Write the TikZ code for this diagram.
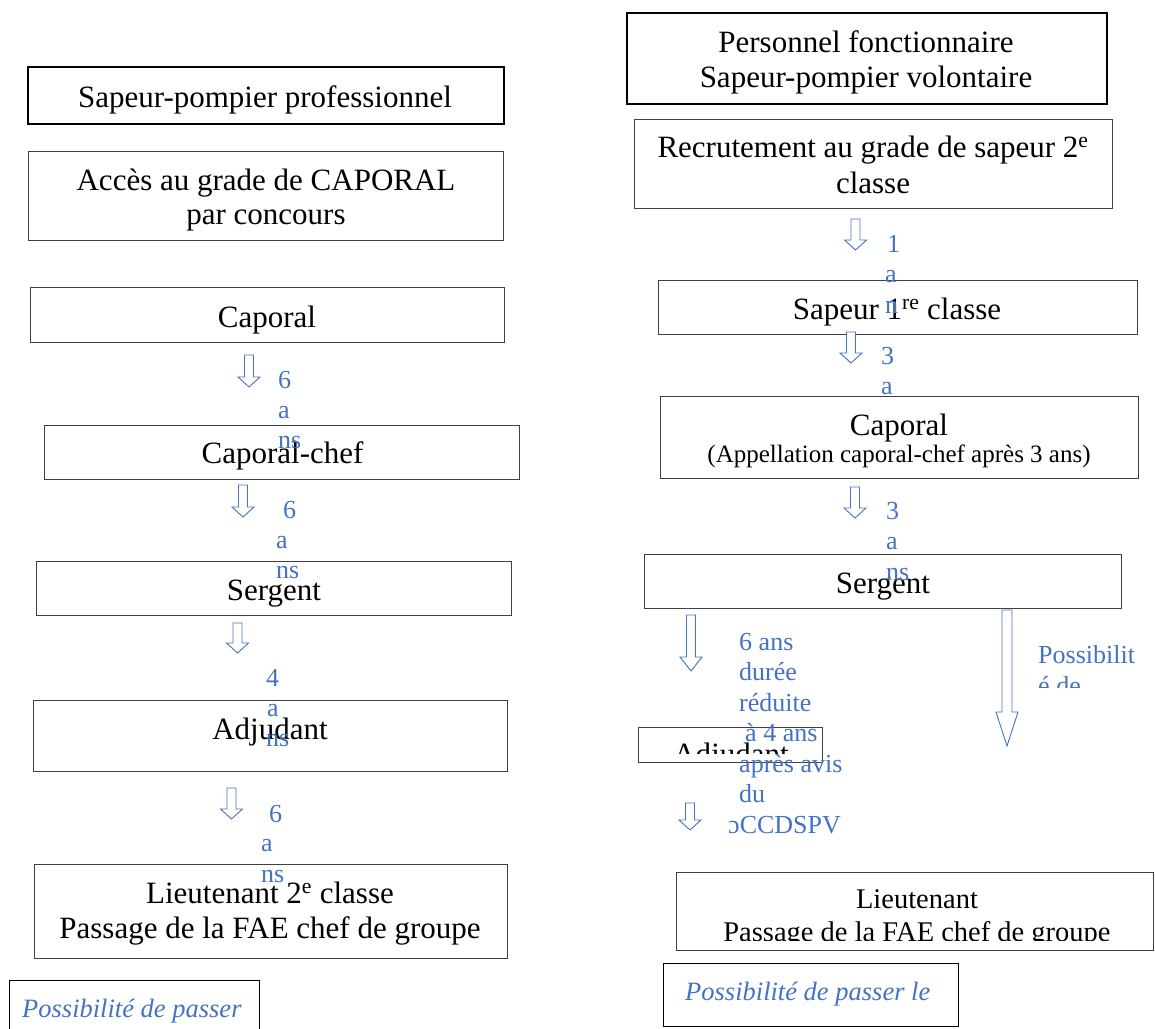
\documentclass[tikz,border=0pt]{standalone}
\usepackage{fontspec}
\setmainfont{Liberation Serif}
\definecolor{wblue}{RGB}{68,114,196}
\newcommand\blockarr[4]{%
  \draw[arrowline] ({#1-4.5},#2) -- ({#1+4.5},#2) -- ({#1+4.5},#3) -- ({#1+11},#3) -- (#1,#4) -- ({#1-11},#3) -- ({#1-4.5},#3) -- cycle;}
\begin{document}
\begin{tikzpicture}[x=1pt,y=-1pt,
  box/.style={draw=black!75, line width=1.2pt, fill=white, inner sep=0, anchor=north west},
  thickbox/.style={box, draw=black, line width=2pt},
  mtxt/.style={inner sep=0, anchor=base, font=\fontsize{31}{35}\selectfont},
  stxt/.style={inner sep=0, anchor=base, font=\fontsize{25}{30}\selectfont},
  ital/.style={inner sep=0, anchor=base west, text=wblue, font=\fontsize{26.5}{31}\selectfont\itshape},
  lab/.style={inner sep=0, anchor=base west, text=wblue, font=\fontsize{26}{31}\selectfont},
  arrowline/.style={draw=wblue, line width=0.9pt, fill=white, line join=miter}]
\useasboundingbox (0,0) rectangle (1155,1028);
\clip (0,0) rectangle (1155,1028);

% ---------------- left column ----------------
\node[thickbox, minimum width=476pt, minimum height=57pt] (A) at (27,66) {};
\node[mtxt] (At) at (265,107) {Sapeur-pompier professionnel};

\node[box, minimum width=475pt, minimum height=89pt] (B) at (28,151) {};
\node[mtxt] (Bt1) at (266,190) {Accès au grade de CAPORAL};
\node[mtxt] (Bt2) at (266,224) {par concours};

\node[box, minimum width=474pt, minimum height=55pt] (C) at (30,287) {};
\node[mtxt] (Ct) at (267,327) {Caporal};

\node[box, minimum width=475pt, minimum height=54pt] (D) at (44,425) {};
\node[mtxt] (Dt) at (282.5,463) {Caporal-chef};

\node[box, minimum width=475pt, minimum height=54pt] (E) at (36,561) {};
\node[mtxt] (Et) at (274,600) {Sergent};

\node[box, minimum width=474pt, minimum height=71pt] (F) at (33,700) {};
\node[mtxt] (Ft) at (270,739) {Adjudant};

\node[box, minimum width=473pt, minimum height=94pt] (G) at (34,864) {};
\node[mtxt] (Gt1) at (270,903) {Lieutenant 2\textsuperscript{e} classe};
\node[mtxt] (Gt2) at (270,938) {Passage de la FAE chef de groupe};

\node[box, draw=black, minimum width=250pt, minimum height=60pt] (H) at (9,980) {};
\node[ital] (Ht) at (22,1017) {Possibilité de passer};

% ---------------- right column ----------------
\node[thickbox, minimum width=480pt, minimum height=91pt] (P) at (626,12) {};
\node[mtxt] (Pt1) at (866,52) {Personnel fonctionnaire};
\node[mtxt] (Pt2) at (866,87) {Sapeur-pompier volontaire};

\node[box, minimum width=478pt, minimum height=89pt] (R) at (634,119) {};
\node[mtxt] (Rt1) at (873,157) {Recrutement au grade de sapeur 2\textsuperscript{e}};
\node[mtxt] (Rt2) at (873,193) {classe};

\node[box, minimum width=479pt, minimum height=54pt] (S) at (658,280) {};
\node[mtxt] (St) at (897,319) {Sapeur 1\textsuperscript{re} classe};

\node[box, minimum width=478pt, minimum height=82pt] (K) at (660,396) {};
\node[mtxt] (Kt1) at (899,435) {Caporal};
\node[stxt] (Kt2) at (899,462) {(Appellation caporal-chef après 3 ans)};

\node[box, minimum width=477pt, minimum height=54pt] (T) at (644,554) {};
\node[mtxt] (Tt) at (883,593) {Sergent};

\node[box, minimum width=184pt, minimum height=35pt] (U) at (638,727) {};
\begin{scope}
  \clip (638,727) rectangle (822,753);
  \node[mtxt] (Ut) at (731,764) {Adjudant};
\end{scope}

\node[box, minimum width=477pt, minimum height=78pt] (L) at (676,872) {};
\node[mtxt, font=\fontsize{28.5}{33}\selectfont] (Lt1) at (917,908) {Lieutenant};
\begin{scope}
  \clip (676,872) rectangle (1153,940.5);
  \node[mtxt, font=\fontsize{28.5}{33}\selectfont] (Lt2) at (917,941) {Passage de la FAE chef de groupe};
\end{scope}

\node[box, draw=black, minimum width=295pt, minimum height=63pt] (M) at (663,963) {};
\node[ital] (Mt) at (685,1000) {Possibilité de passer le};

% ---------------- arrows ----------------
\blockarr{249}{355}{377}{387}
\blockarr{243}{485}{507}{517}
\blockarr{237.5}{623}{643}{653}
\blockarr{231.5}{788}{809}{819}
\blockarr{855.5}{219}{240}{250}
\blockarr{851}{332}{353}{363}
\blockarr{855}{487}{508}{518}
\blockarr{691}{615}{657}{671}
\blockarr{690}{803}{820}{830}
\draw[arrowline] (1002,610) -- (1012,610) -- (1012,712) -- (1018,712) -- (1007,746) -- (996,712) -- (1002,712) -- cycle;

% ---------------- blue labels ----------------
\node[lab] (l1a) at (278,388) {6};
\node[lab] (l1b) at (278,418) {a};
\node[lab] (l1c) at (278,448) {ns};
\node[lab] (l2a) at (283,518) {6};
\node[lab] (l2b) at (276,548) {a};
\node[lab] (l2c) at (276,578) {ns};
\node[lab] (l3a) at (266,686) {4};
\node[lab] (l3b) at (267,716) {a};
\node[lab] (l3c) at (266,746) {ns};
\node[lab] (l4a) at (269,822) {6};
\node[lab] (l4b) at (261,851) {a};
\node[lab] (l4c) at (261,882) {ns};

\node[lab] (r1a) at (887,252) {1};
\node[lab] (r1b) at (885,282) {a};
\node[lab] (r1c) at (885,313) {n};
\node[lab] (r2a) at (881,364) {3};
\node[lab] (r2b) at (881,394) {a};
\node[lab] (r3a) at (886,519) {3};
\node[lab] (r3b) at (886,549) {a};
\node[lab] (r3c) at (886,580) {ns};

\node[lab] (c1) at (739,650) {6 ans};
\node[lab] (c2) at (739,680.5) {durée};
\node[lab] (c3) at (739,711) {réduite};
\node[lab] (c4) at (745,741.5) {à 4 ans};
\node[lab] (c5) at (739,772) {après avis};
\node[lab] (c6) at (739,802.5) {du};
\node[lab] (c7) at (728,833) {\symbol{"0254}CCDSPV};

\node[lab] (q1) at (1038,663) {Possibilit};
\begin{scope}
  \clip (1030,665) rectangle (1155,687);
  \node[lab] (q2) at (1038,694) {é de};
\end{scope}
\end{tikzpicture}
\end{document}
